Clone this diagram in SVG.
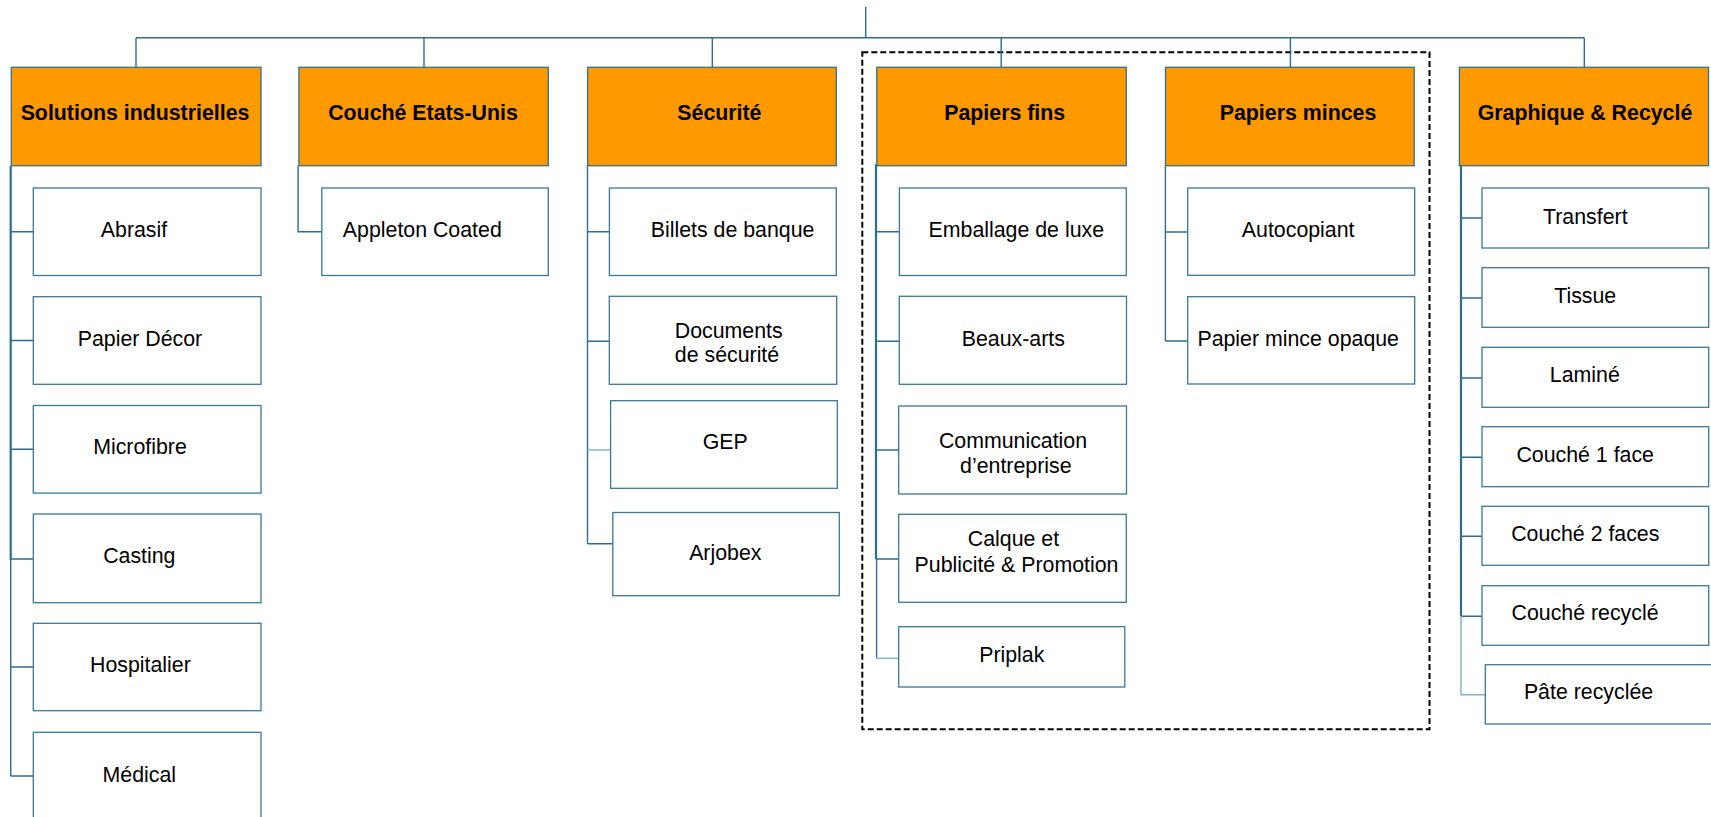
<svg xmlns="http://www.w3.org/2000/svg" width="1711" height="817" viewBox="0 0 1711 817">
<style>
.hdr{fill:#FF9900;stroke:#31708F;stroke-width:1.3}
.box{fill:#FFFFFF;stroke:#3A7897;stroke-width:1.3}
.ht{font-family:"Liberation Sans",Arial,sans-serif;font-size:21.33px;font-weight:bold;fill:#000;text-anchor:middle}
.ct{font-family:"Liberation Sans",Arial,sans-serif;font-size:21.33px;fill:#000;text-anchor:middle}
.ln{fill:none;stroke:#2F6D8D;stroke-width:1.4}
.lnt{fill:none;stroke:#2F6D8D;stroke-width:2.2}
.lnl{fill:none;stroke:#86AFC4;stroke-width:1.4}
.dash{fill:none;stroke:#000;stroke-width:2;stroke-dasharray:6 3}
</style>
<rect width="1711" height="817" fill="#FFFFFF"/>
<g id="group-frame">
<rect class="dash" x="862.3" y="52.3" width="567.2" height="677"/>
</g>
<g id="connectors">
<path class="ln" d="M865.7,7V37.7M136,37.7H1584.3M136,37.7V67.3M424,37.7V67.3M712.3,37.7V67.3M1001.2,37.7V67.3M1290.4,37.7V67.3M1584.3,37.7V67.3"/>
<path class="lnt" d="M10.7,165.7V560"/>
<path class="ln" d="M10.7,560V776M10.7,231.7H33.3M10.7,340.5H33.3M10.7,449.3H33.3M10.7,559H33.3M10.7,667H33.3M10.7,776H33.3"/>
<path class="ln" d="M298.1,165.7V231.7H321.8"/>
<path class="ln" d="M587.5,165.7V543.7M587.5,231.7H609.4M587.5,341.3H609.3M587.5,543.7H612.8"/>
<path class="lnl" d="M587.5,450H610.6"/>
<path class="lnt" d="M876,164.3V559"/>
<path class="ln" d="M876.6,559V658.3M876,231.7H899.4M876,341.3H899.3M876,450H898.7M876,559H898.7"/>
<path class="lnl" d="M876.6,658.3H898.7"/>
<path class="ln" d="M1165.4,165.7V341M1165.4,232H1187.7M1165.4,341H1187.7"/>
<path class="lnt" d="M1461,165.7V616.3"/>
<path class="ln" d="M1461,218H1482M1461,298H1482M1461,378H1482M1461,457.3H1482M1461,536.3H1482M1461,616.3H1482"/>
<path class="lnl" d="M1461,616.3V694.7H1485.3"/>
</g>
<g id="solutions">
<rect class="hdr" x="11.3" y="67.3" width="249.7" height="98.4"/>
<text class="ht" x="135" y="120">Solutions industrielles</text>
</g>
<g id="abrasif"><rect class="box" x="33.3" y="188" width="227.7" height="87.5"/><text class="ct" x="134" y="236.7">Abrasif</text></g>
<g id="papier-decor"><rect class="box" x="33.3" y="296.7" width="227.7" height="87.6"/><text class="ct" x="140" y="345.5">Papier Décor</text></g>
<g id="microfibre"><rect class="box" x="33.3" y="405.5" width="227.7" height="87.6"/><text class="ct" x="140" y="454.3">Microfibre</text></g>
<g id="casting"><rect class="box" x="33.3" y="514" width="227.7" height="88.7"/><text class="ct" x="139.3" y="563.3">Casting</text></g>
<g id="hospitalier"><rect class="box" x="33.3" y="623.3" width="227.7" height="87.4"/><text class="ct" x="140.4" y="672">Hospitalier</text></g>
<g id="medical"><rect class="box" x="33.3" y="732.3" width="227.7" height="90"/><text class="ct" x="139.3" y="782.3">Médical</text></g>
<g id="couche-etats-unis">
<rect class="hdr" x="298.9" y="67.3" width="249.4" height="98.4"/>
<text class="ht" x="423" y="120">Couché Etats-Unis</text>
</g>
<g id="appleton"><rect class="box" x="321.8" y="188" width="226.5" height="87.5"/><text class="ct" x="422.3" y="236.7">Appleton Coated</text></g>
<g id="securite">
<rect class="hdr" x="587.6" y="67.3" width="248.7" height="98.4"/>
<text class="ht" x="719.4" y="120">Sécurité</text>
</g>
<g id="billets"><rect class="box" x="609.4" y="188" width="226.9" height="87.5"/><text class="ct" x="732.6" y="237">Billets de banque</text></g>
<g id="documents"><rect class="box" x="609.3" y="296.3" width="227.4" height="88"/><text class="ct" x="728.7" y="338.3">Documents</text><text class="ct" x="727" y="362.3">de sécurité</text></g>
<g id="gep"><rect class="box" x="610.6" y="400.7" width="226.7" height="87.6"/><text class="ct" x="725.3" y="449">GEP</text></g>
<g id="arjobex"><rect class="box" x="612.8" y="512.5" width="226.5" height="83.2"/><text class="ct" x="725.3" y="560.3">Arjobex</text></g>
<g id="papiers-fins">
<rect class="hdr" x="876.8" y="67.3" width="249.5" height="98.4"/>
<text class="ht" x="1004.7" y="120">Papiers fins</text>
</g>
<g id="emballage"><rect class="box" x="899.4" y="188" width="226.9" height="87.5"/><text class="ct" x="1016.3" y="237.3">Emballage de luxe</text></g>
<g id="beaux-arts"><rect class="box" x="899.3" y="296.3" width="227.2" height="88"/><text class="ct" x="1013.3" y="345.7">Beaux-arts</text></g>
<g id="communication"><rect class="box" x="898.7" y="406" width="227.8" height="88"/><text class="ct" x="1013" y="448.3">Communication</text><text class="ct" x="1015.8" y="473.3">d’entreprise</text></g>
<g id="calque"><rect class="box" x="898.7" y="514.3" width="227.6" height="88"/><text class="ct" x="1013.5" y="545.7">Calque et</text><text class="ct" x="1016.5" y="571.7">Publicité &amp; Promotion</text></g>
<g id="priplak"><rect class="box" x="898.7" y="626.7" width="226.1" height="60.3"/><text class="ct" x="1011.8" y="661.7">Priplak</text></g>
<g id="papiers-minces">
<rect class="hdr" x="1165.5" y="67.3" width="248.7" height="98.4"/>
<text class="ht" x="1298" y="120">Papiers minces</text>
</g>
<g id="autocopiant"><rect class="box" x="1187.7" y="188" width="227" height="87.3"/><text class="ct" x="1298.2" y="237.3">Autocopiant</text></g>
<g id="papier-mince-opaque"><rect class="box" x="1187.7" y="296.7" width="227" height="87.3"/><text class="ct" x="1298.2" y="345.7">Papier mince opaque</text></g>
<g id="graphique-recycle">
<rect class="hdr" x="1459.4" y="67.3" width="249.1" height="98.4"/>
<text class="ht" x="1585" y="120">Graphique &amp; Recyclé</text>
</g>
<g id="transfert"><rect class="box" x="1482" y="188" width="226.7" height="60"/><text class="ct" x="1585.3" y="224">Transfert</text></g>
<g id="tissue"><rect class="box" x="1482" y="267.7" width="226.7" height="59.6"/><text class="ct" x="1585.2" y="302.7">Tissue</text></g>
<g id="lamine"><rect class="box" x="1482" y="347.3" width="226.7" height="60"/><text class="ct" x="1584.8" y="382">Laminé</text></g>
<g id="couche-1-face"><rect class="box" x="1482" y="426.7" width="226.7" height="60"/><text class="ct" x="1585.2" y="461.7">Couché 1 face</text></g>
<g id="couche-2-faces"><rect class="box" x="1482" y="506.3" width="226.7" height="59"/><text class="ct" x="1585.3" y="541.3">Couché 2 faces</text></g>
<g id="couche-recycle"><rect class="box" x="1482" y="585.7" width="226.7" height="59.6"/><text class="ct" x="1585" y="620.3">Couché recyclé</text></g>
<g id="pate-recyclee"><rect class="box" x="1485.3" y="664.7" width="230" height="59.3"/><text class="ct" x="1588.5" y="699.3">Pâte recyclée</text></g>
</svg>
